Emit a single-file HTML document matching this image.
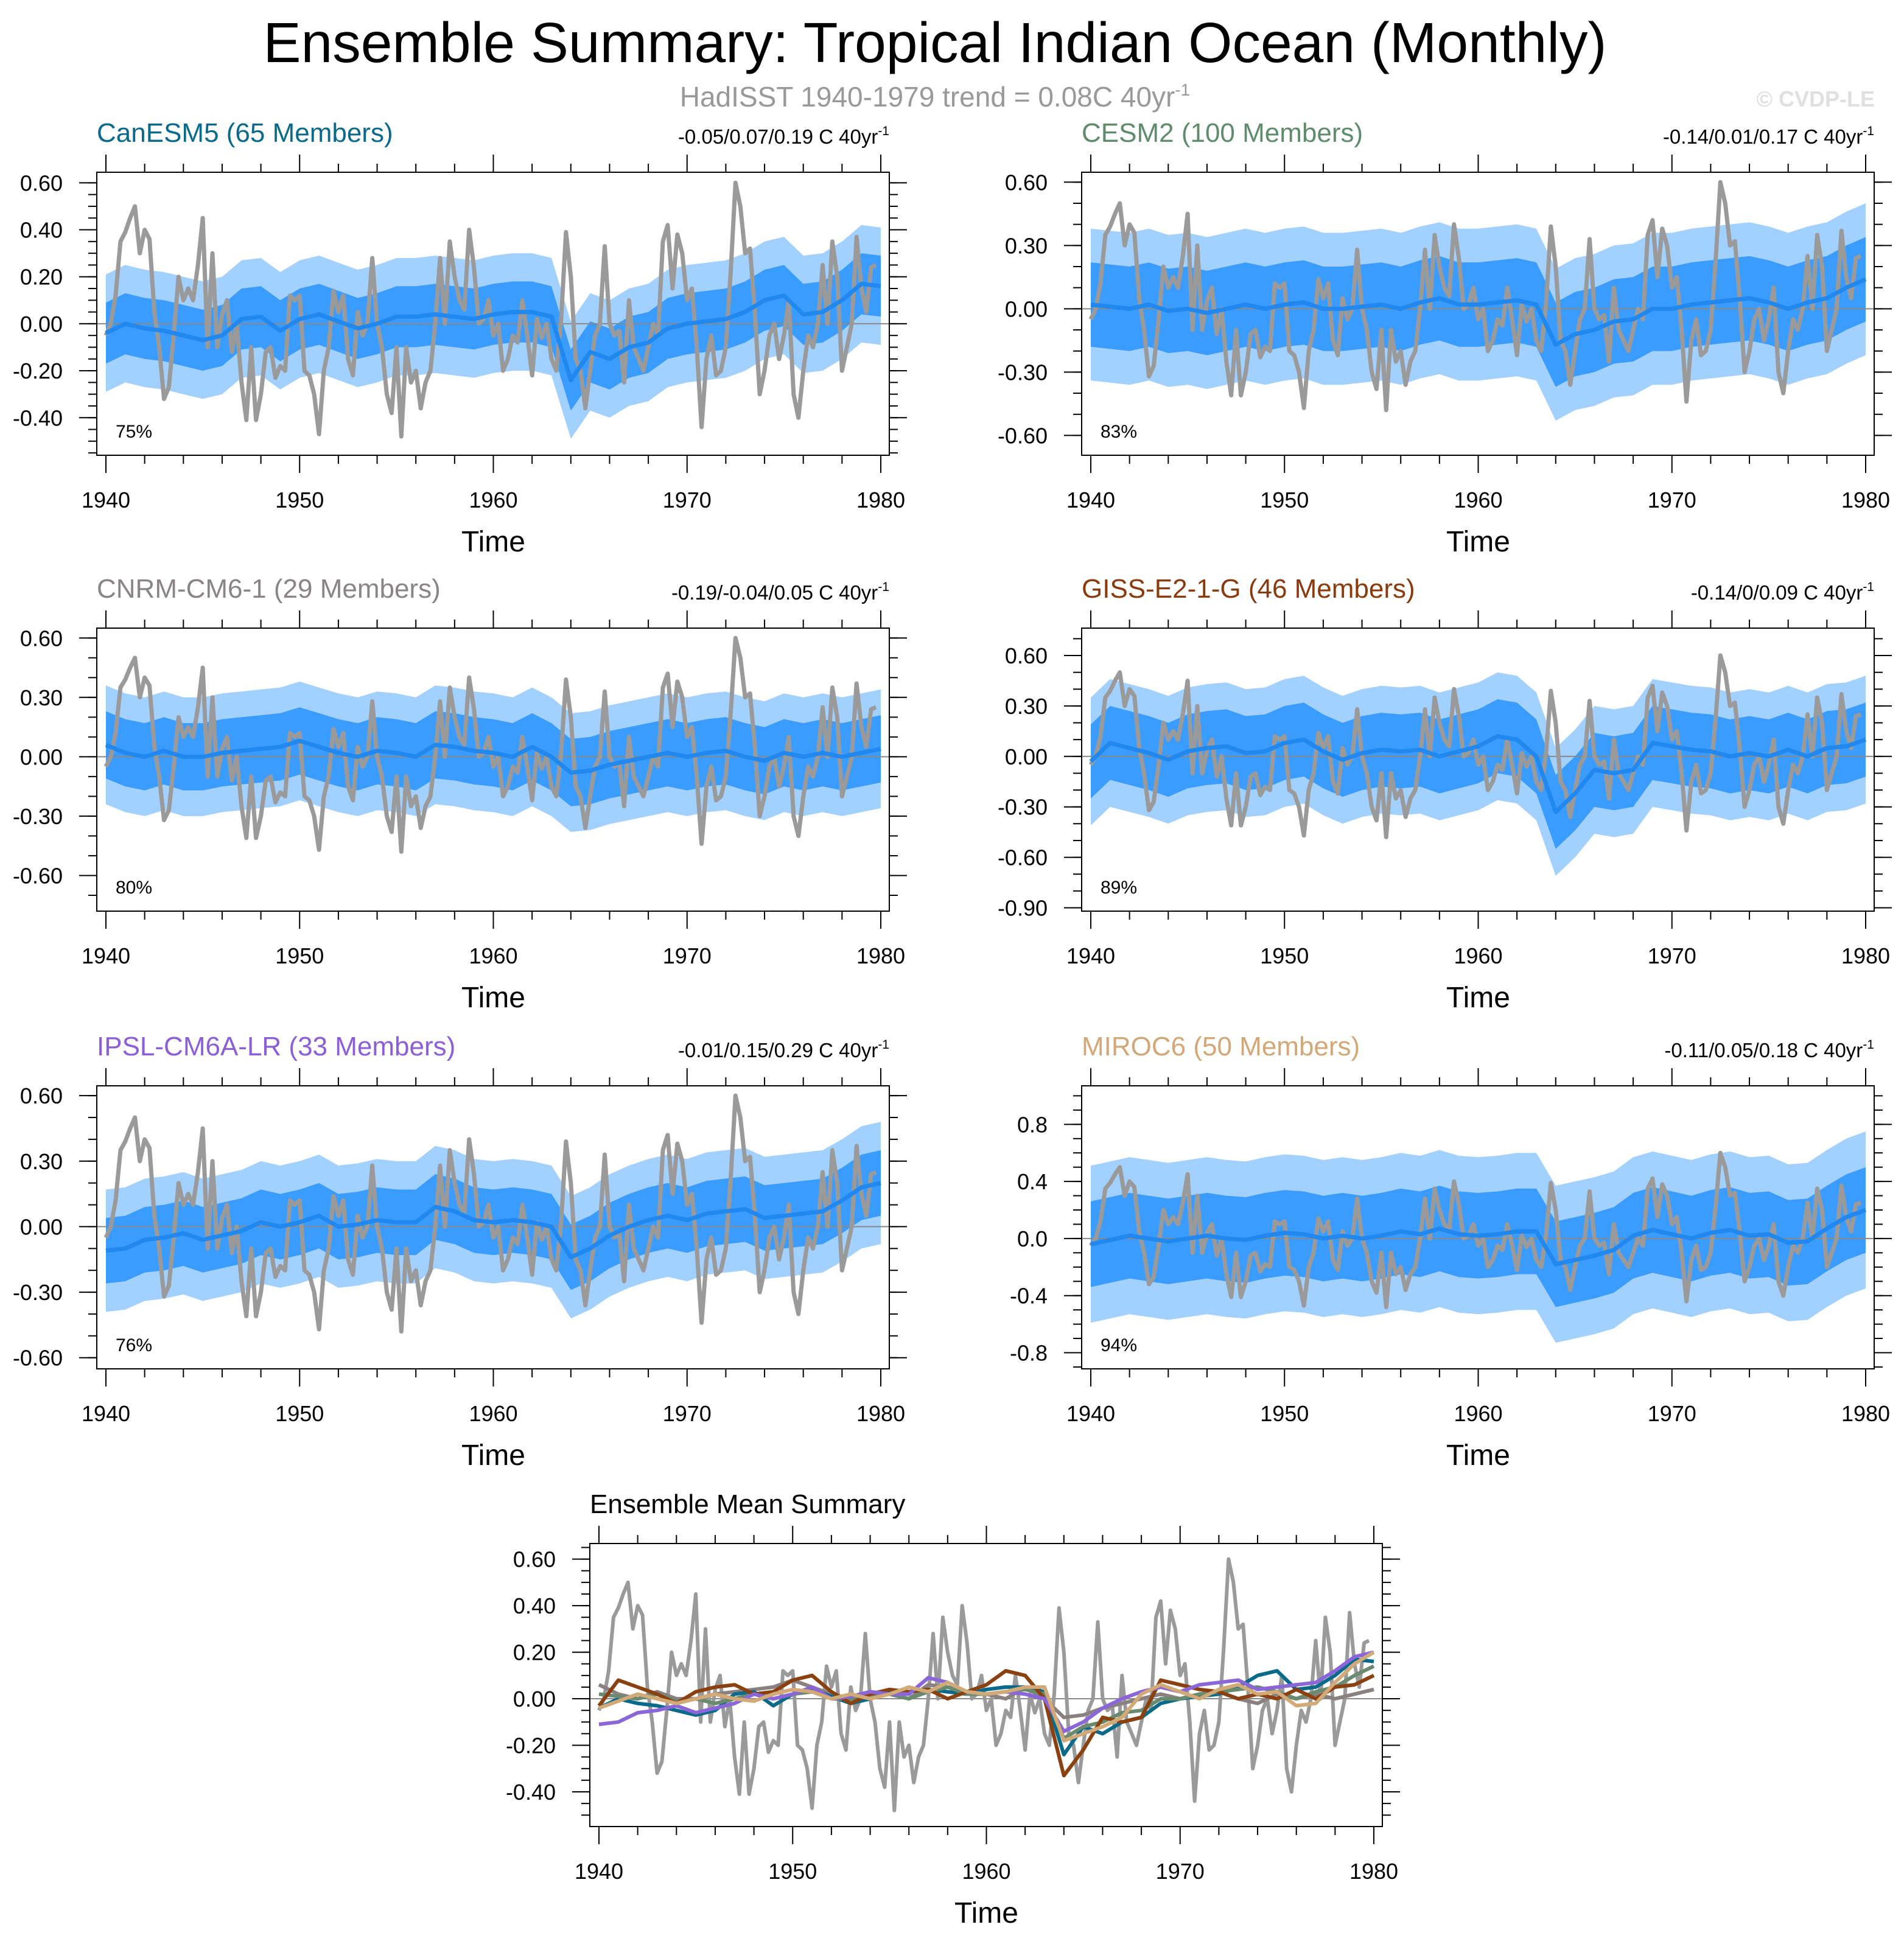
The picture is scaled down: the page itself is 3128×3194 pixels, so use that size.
<!DOCTYPE html>
<html><head><meta charset="utf-8"><title>Ensemble Summary</title>
<style>
html,body{margin:0;padding:0;background:#fff;}
svg{display:block;font-family:"Liberation Sans",sans-serif;}
</style></head>
<body>
<svg id="chart" width="3128" height="3194" viewBox="0 0 3128 3194" xmlns="http://www.w3.org/2000/svg">
<text x="1536" y="102" font-size="93" text-anchor="middle" fill="#000">Ensemble Summary: Tropical Indian Ocean (Monthly)</text>
<text x="1536" y="175" font-size="46" text-anchor="middle" fill="#999">HadISST 1940-1979 trend = 0.08C 40yr<tspan dy="-18" font-size="28">-1</tspan></text>
<text x="3080" y="175" font-size="36" font-weight="bold" text-anchor="end" fill="#e0e0e0">© CVDP-LE</text>
<g id="panels"></g>
</svg>
<script>
// ---------- DATA ----------
const years = [1940,1941,1942,1943,1944,1945,1946,1947,1948,1949,1950,1951,1952,1953,1954,1955,1956,1957,1958,1959,1960,1961,1962,1963,1964,1965,1966,1967,1968,1969,1970,1971,1972,1973,1974,1975,1976,1977,1978,1979,1980];
// HadISST observations, quarterly from 1940.0
const obsValues = [
-0.05,0.0,0.12,0.35, 0.39,0.45,0.50,0.30, 0.40,0.36,0.05,-0.1, -0.32,-0.27,-0.05,0.2,
0.1,0.15,0.1,0.25, 0.45,-0.1,0.3,-0.1, 0.04,0.1,-0.12,0.0, -0.25,-0.41,-0.1,-0.41,
-0.3,-0.12,-0.1,-0.23, -0.18,-0.2,0.12,0.1, 0.12,-0.2,-0.22,-0.3, -0.47,-0.2,-0.1,0.14,
0.05,0.12,-0.15,-0.22, 0.05,-0.05,0.0,0.28, 0.0,-0.1,-0.3,-0.38, -0.1,-0.48,-0.1,-0.25,
-0.2,-0.36,-0.25,-0.2, 0.0,0.28,0.0,0.35, 0.2,0.1,0.06,0.4, 0.24,0.0,0.02,0.1,
-0.05,0.0,-0.2,-0.15, -0.05,-0.08,0.1,-0.05, -0.22,0.02,-0.06,0.0, -0.15,-0.2,0.02,0.39,
0.2,-0.15,-0.2,-0.36, -0.2,-0.05,0.0,0.33, 0.0,-0.05,-0.03,-0.25, 0.1,-0.1,-0.15,-0.2,
-0.1,0.0,-0.05,0.35, 0.42,0.15,0.38,0.3, 0.1,0.15,-0.1,-0.44, -0.15,-0.05,-0.22,-0.2,
-0.1,0.22,0.6,0.5, 0.3,0.32,0.05,-0.3, -0.2,-0.05,0.0,-0.15, -0.05,0.1,-0.3,-0.4,
-0.2,-0.05,-0.1,0.0, 0.25,0.0,0.35,0.2, -0.2,-0.1,0.0,0.37, 0.15,0.05,0.24,0.25];
// Ensemble means (annual)
const canesm5Mean = [-0.04,0.0,-0.02,-0.03,-0.05,-0.07,-0.05,0.02,0.03,-0.03,0.02,0.04,0.01,-0.02,0.0,0.03,0.03,0.04,0.03,0.02,0.04,0.05,0.05,0.03,-0.24,-0.12,-0.15,-0.1,-0.08,-0.02,0.0,0.01,0.02,0.05,0.1,0.12,0.04,0.05,0.1,0.17,0.16];
const cesm2Mean = [0.02,0.01,0.0,0.02,-0.01,0.0,-0.02,0.0,0.02,0.0,0.02,0.03,0.0,0.0,0.01,0.02,0.0,0.03,0.05,0.02,0.02,0.03,0.04,0.02,-0.17,-0.12,-0.1,-0.06,-0.05,0.0,0.0,0.02,0.03,0.04,0.05,0.03,0.0,0.03,0.05,0.1,0.14];
const cnrmMean = [0.06,0.02,0.0,0.03,0.0,0.0,0.02,0.03,0.04,0.05,0.08,0.05,0.02,0.0,0.03,0.02,0.0,0.06,0.05,0.03,0.02,0.0,0.05,0.0,-0.08,-0.07,-0.04,-0.02,0.0,0.02,0.0,0.02,0.03,0.0,-0.02,0.02,0.0,0.02,0.0,0.02,0.04];
const gissMean = [-0.03,0.08,0.05,0.02,-0.02,0.03,0.05,0.06,0.02,0.03,0.08,0.1,0.03,-0.02,0.02,0.04,0.03,0.04,0.0,0.03,0.06,0.12,0.1,0.0,-0.33,-0.22,-0.08,-0.1,-0.08,0.08,0.06,0.04,0.03,0.0,0.02,0.0,0.04,0.0,0.05,0.06,0.1];
const ipslMean = [-0.11,-0.1,-0.06,-0.05,-0.03,-0.06,-0.04,-0.02,0.02,0.0,0.02,0.05,0.0,0.01,0.03,0.02,0.02,0.09,0.07,0.03,0.02,0.03,0.02,0.0,-0.14,-0.1,-0.04,0.0,0.03,0.05,0.03,0.06,0.07,0.08,0.04,0.05,0.06,0.07,0.12,0.18,0.2];
const mirocMean = [-0.04,-0.01,0.02,0.0,-0.02,0.0,0.02,0.0,-0.01,0.02,0.04,0.03,0.0,0.02,0.0,0.02,0.05,0.03,0.07,0.03,0.02,0.03,0.05,0.05,-0.18,-0.15,-0.12,-0.08,0.02,0.06,0.03,0.0,0.04,0.06,0.02,0.03,-0.03,-0.02,0.07,0.15,0.2];
// spread half-widths [inner(25-75%), outer(10-90%)]
const canesm5Spread = [0.13,0.25];
const cesm2Spread = [0.2,0.36];
const cnrmSpread = [0.17,0.3];
const gissSpread = [0.22,0.38];
const ipslSpread = [0.15,0.28];
const mirocSpread = [0.3,0.55];
const xTickLabels = ["1940","1950","1960","1970","1980"];
const yTicksA = [-0.4,-0.2,0,0.2,0.4,0.6];
const yTicksB = [-0.6,-0.3,0,0.3,0.6];
const yTicksC = [-0.9,-0.6,-0.3,0,0.3,0.6];
const yTicksD = [-0.8,-0.4,0,0.4,0.8];

// ---------- RENDER ----------
const NS = "http://www.w3.org/2000/svg";
const root = document.getElementById('panels');
function mk(tag, attrs, parent){ const e=document.createElementNS(NS,tag); for(const k in attrs) e.setAttribute(k,attrs[k]); (parent||root).appendChild(e); return e; }

const W=1302, H=465;
function drawPanel(cfg){
  const g = mk('g',{});
  
  
  const L=cfg.x, T=cfg.y, R=L+W, B=T+H;
  const x0=L+15, x1=R-14;
  const xs = yr => x0 + (yr-1940)/40*(x1-x0);
  const ys = v => T + (cfg.top - v)/(cfg.top-cfg.bot)*H;
  const clip = mk('clipPath',{id:'clip-'+cfg.id},g);
  mk('rect',{x:L,y:T,width:W,height:H},clip);
  const plot = mk('g',{'clip-path':'url(#clip-'+cfg.id+')'},g);
  
  
  if(cfg.mean && cfg.spread){
    [[1,'#a3d1ff','outer-spread-band'],[0,'#3a9cff','inner-spread-band']].forEach(([i,col,nm])=>{
      let up='', lo='';
      cfg.mean.forEach((v,k)=>{ up += (k?'L':'M')+xs(years[k]).toFixed(1)+','+ys(v+cfg.spread[i]).toFixed(1); });
      for(let k=cfg.mean.length-1;k>=0;k--) lo += 'L'+xs(years[k]).toFixed(1)+','+ys(cfg.mean[k]-cfg.spread[i]).toFixed(1);
      const p = mk('path',{d:up+lo+'Z',fill:col,stroke:'none'},plot);
      
      
    });
  }
  const zl = mk('line',{x1:L,x2:R,y1:ys(0),y2:ys(0),stroke:'#888','stroke-width':2},plot);
  
  
  function line(vals, step, col, w, nm){
    let d='';
    vals.forEach((v,k)=>{ d += (k?'L':'M')+xs(1940+k*step).toFixed(1)+','+ys(v).toFixed(1); });
    const p = mk('path',{d:d,fill:'none',stroke:col,'stroke-width':w,'stroke-linejoin':'round'},plot);
    
    
  }
  if(cfg.mean){
    line(obsValues, 0.25, '#9a9a9a', 7, 'observations-line');
    line(cfg.mean, 1, '#2088ee', 7, 'ensemble-mean-line');
  } else {
    line(obsValues, 0.25, '#9a9a9a', 6, 'observations-line');
    cfg.lines.forEach(([arr,col,nm])=>line(arr,1,col,6,nm));
  }
  const box = mk('rect',{x:L,y:T,width:W,height:H,fill:'none',stroke:'#000','stroke-width':2},g);
  
  
  for(let yr=1940; yr<=1980; yr+=2){
    const major = (yr%10===0), len = major?29:14, X=xs(yr);
    mk('line',{x1:X,x2:X,y1:B,y2:B+len,stroke:'#000','stroke-width':2},g);
    mk('line',{x1:X,x2:X,y1:T,y2:T-len,stroke:'#000','stroke-width':2},g);
  }
  xTickLabels.forEach(lab=>{
    const t = mk('text',{x:xs(+lab),y:B+86,'font-size':36,'text-anchor':'middle',fill:'#000'},g);
    t.textContent = lab;
    
    
  });
  const xt = mk('text',{x:(x0+x1)/2,y:B+158,'font-size':48,'text-anchor':'middle',fill:'#000'},g);
  xt.textContent='Time';
  
  
  const minStep = cfg.minor;
  for(let v=Math.ceil(cfg.bot/minStep)*minStep; v<=cfg.top+1e-9; v+=minStep){
    const Y=ys(v);
    mk('line',{x1:L,x2:L-14,y1:Y,y2:Y,stroke:'#000','stroke-width':2},g);
    mk('line',{x1:R,x2:R+14,y1:Y,y2:Y,stroke:'#000','stroke-width':2},g);
  }
  cfg.ticks.forEach(v=>{
    const Y=ys(v);
    mk('line',{x1:L,x2:L-29,y1:Y,y2:Y,stroke:'#000','stroke-width':2},g);
    mk('line',{x1:R,x2:R+29,y1:Y,y2:Y,stroke:'#000','stroke-width':2},g);
    const t = mk('text',{x:L-56,y:Y+13,'font-size':36,'text-anchor':'end',fill:'#000'},g);
    t.textContent = v.toFixed(cfg.dec);
    
    
  });
  const tt = mk('text',{x:L,y:T-50,'font-size':44,fill:cfg.color},g);
  tt.textContent = cfg.title;
  
  
  if(cfg.trend){
    const tr = mk('text',{x:R,y:T-47,'font-size':33,'text-anchor':'end',fill:'#000'},g);
    tr.appendChild(document.createTextNode(cfg.trend+' C 40yr'));
    const sp = mk('tspan',{dy:-14,'font-size':21},tr); sp.textContent='-1';
    
    
  }
  if(cfg.pct){
    const pc = mk('text',{x:L+31,y:B-29,'font-size':30,fill:'#000'},g);
    pc.textContent = cfg.pct;
    
    
  }
}

const cols=[159,1777], rows=[283,1032,1784];
drawPanel({id:'canesm5',x:cols[0],y:rows[0],top:0.645,bot:-0.56,ticks:yTicksA,minor:0.05,dec:2,mean:canesm5Mean,spread:canesm5Spread,title:'CanESM5 (65 Members)',color:'#0b6a8c',trend:'-0.05/0.07/0.19',pct:'75%'});
drawPanel({id:'cesm2',x:cols[1],y:rows[0],top:0.647,bot:-0.694,ticks:yTicksB,minor:0.1,dec:2,mean:cesm2Mean,spread:cesm2Spread,title:'CESM2 (100 Members)',color:'#5f8c6c',trend:'-0.14/0.01/0.17',pct:'83%'});
drawPanel({id:'cnrm',x:cols[0],y:rows[1],top:0.65,bot:-0.78,ticks:yTicksB,minor:0.1,dec:2,mean:cnrmMean,spread:cnrmSpread,title:'CNRM-CM6-1 (29 Members)',color:'#8a8585',trend:'-0.19/-0.04/0.05',pct:'80%'});
drawPanel({id:'giss',x:cols[1],y:rows[1],top:0.763,bot:-0.92,ticks:yTicksC,minor:0.1,dec:2,mean:gissMean,spread:gissSpread,title:'GISS-E2-1-G (46 Members)',color:'#8b3a0e',trend:'-0.14/0/0.09',pct:'89%'});
drawPanel({id:'ipsl',x:cols[0],y:rows[2],top:0.645,bot:-0.651,ticks:yTicksB,minor:0.1,dec:2,mean:ipslMean,spread:ipslSpread,title:'IPSL-CM6A-LR (33 Members)',color:'#8a5fd8',trend:'-0.01/0.15/0.29',pct:'76%'});
drawPanel({id:'miroc',x:cols[1],y:rows[2],top:1.07,bot:-0.913,ticks:yTicksD,minor:0.1,dec:1,mean:mirocMean,spread:mirocSpread,title:'MIROC6 (50 Members)',color:'#d2a878',trend:'-0.11/0.05/0.18',pct:'94%'});
drawPanel({id:'ensemble-mean-summary',x:969,y:2536,top:0.667,bot:-0.549,ticks:yTicksA,minor:0.05,dec:2,title:'Ensemble Mean Summary',color:'#000',
  lines:[[cnrmMean,'#8a8080','cnrm-mean-line'],[canesm5Mean,'#0a6a8a','canesm5-mean-line'],[cesm2Mean,'#6a8a70','cesm2-mean-line'],[gissMean,'#8b4010','giss-mean-line'],[ipslMean,'#8a66d8','ipsl-mean-line'],[mirocMean,'#d2aa78','miroc-mean-line']]});
</script>
</body></html>
